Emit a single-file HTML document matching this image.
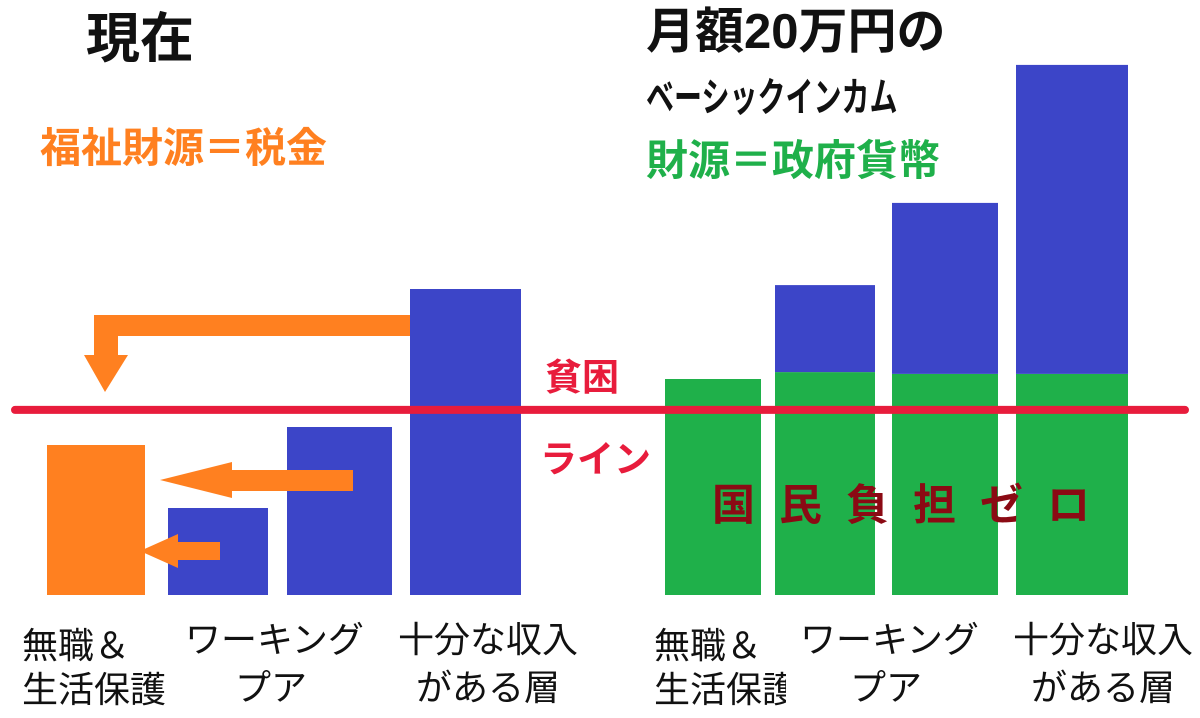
<!DOCTYPE html>
<html><head><meta charset="utf-8">
<style>
html,body{margin:0;padding:0;background:#fff;}
body{width:1200px;height:718px;position:relative;overflow:hidden;font-family:"Liberation Sans","Noto Sans CJK JP",sans-serif;}
.t{position:absolute;white-space:nowrap;line-height:1;}
</style></head><body>
<svg id="chart" width="1200" height="718" style="position:absolute;left:0;top:0" xmlns="http://www.w3.org/2000/svg"></svg>
<div class="t" style="left:86px;top:12px;font-size:54px;font-weight:bold;color:#111">現在</div>
<div class="t" style="left:646px;top:8px;font-size:49px;font-weight:bold;color:#111">月額20万円の</div>
<div class="t" style="left:646px;top:78px;font-size:40px;font-weight:bold;color:#111;transform:scaleX(0.7);transform-origin:left">ベーシックインカム</div>
<div class="t" style="left:646px;top:140px;font-size:42px;font-weight:bold;color:#1fb04a">財源＝政府貨幣</div>
<div class="t" style="left:40px;top:128px;font-size:41px;font-weight:bold;color:#ff8020">福祉財源＝税金</div>
<div class="t" style="left:545px;top:359px;font-size:37px;font-weight:bold;color:#e81c3c">貧困</div>
<div class="t" style="left:540px;top:441px;font-size:37px;font-weight:bold;color:#e81c3c">ライン</div>
<div class="t" style="left:712px;top:485px;font-size:43px;font-weight:bold;color:#8b0a14;letter-spacing:24px">国民負担ゼロ</div>
<div class="t" style="left:22px;top:624px;font-size:36px;color:#111;line-height:44px">無職＆<br>生活保護</div>
<div class="t" style="left:185px;top:616px;font-size:36px;color:#111;line-height:48px;text-align:center;width:172px">ワーキング<br>プア</div>
<div class="t" style="left:395px;top:616px;font-size:36px;color:#111;line-height:48px;text-align:center;width:186px">十分な収入<br>がある層</div>
<div class="t" style="left:654px;top:624px;font-size:36px;color:#111;line-height:44px;width:132px;overflow:hidden">無職＆<br>生活保護</div>
<div class="t" style="left:800px;top:616px;font-size:36px;color:#111;line-height:48px;text-align:center;width:172px">ワーキング<br>プア</div>
<div class="t" style="left:1010px;top:616px;font-size:36px;color:#111;line-height:48px;text-align:center;width:186px">十分な収入<br>がある層</div>
<script>
const leftCategories = ['無職＆生活保護','ワーキングプア','十分な収入がある層(中)','十分な収入がある層'];
const leftValues = [50, 29, 56, 102];
const rightCategories = ['無職＆生活保護','ワーキングプア','十分な収入がある層(中)','十分な収入がある層'];
const rightGreen = [72, 74.3, 73.7, 73.7];
const rightBlue = [0, 29, 57, 103];
const povertyLine = 61.7;

const svg = document.getElementById('chart');
const NS = 'http://www.w3.org/2000/svg';
const base = 595, unit = 3;
function y(v){ return base - v*unit; }
const leftX = [[47,98],[168,100],[287,105],[410,111]];
const rightX = [[665,96],[775,100],[892,106],[1016,112]];
function rect(x,y0,w,h,fill,name){
  const r=document.createElementNS(NS,'rect');
  r.setAttribute('x',x);r.setAttribute('y',y0);r.setAttribute('width',w);r.setAttribute('height',h);r.setAttribute('fill',fill);
  
  
  svg.appendChild(r);
}
leftValues.forEach((v,i)=>{
  rect(leftX[i][0], y(v), leftX[i][1], base-y(v), i===0?'#ff8020':'#3c45c8', 'current-bar-'+(i+1));
});
rightGreen.forEach((v,i)=>{
  rect(rightX[i][0], y(v), rightX[i][1], base-y(v), '#1fb04a', 'bi-green-bar-'+(i+1));
  const b = rightBlue[i];
  if(b>0) rect(rightX[i][0], y(v+b), rightX[i][1], y(v)-y(v+b), '#3c45c8', 'bi-blue-bar-'+(i+1));
});
const ln=document.createElementNS(NS,'line');
ln.setAttribute('x1',15);ln.setAttribute('x2',1185);ln.setAttribute('y1',y(povertyLine));ln.setAttribute('y2',y(povertyLine));
ln.setAttribute('stroke','#e81c3c');ln.setAttribute('stroke-width',8);ln.setAttribute('stroke-linecap','round');


svg.appendChild(ln);
function path(d,name){
  const p=document.createElementNS(NS,'path');
  p.setAttribute('d',d);p.setAttribute('fill','#ff8020');
  
  
  svg.appendChild(p);
}
path('M410 315 L410 336 L118 336 L118 355 L128 355 L105 392 L84 355 L94 355 L94 315 Z','arrow-large');
path('M353 470 L353 491 L232 491 L232 498 L160 480 L232 462 L232 470 Z','arrow-medium');
path('M220 542 L220 560 L178 560 L178 568 L140 551 L178 534 L178 542 Z','arrow-small');
</script>
</body></html>
